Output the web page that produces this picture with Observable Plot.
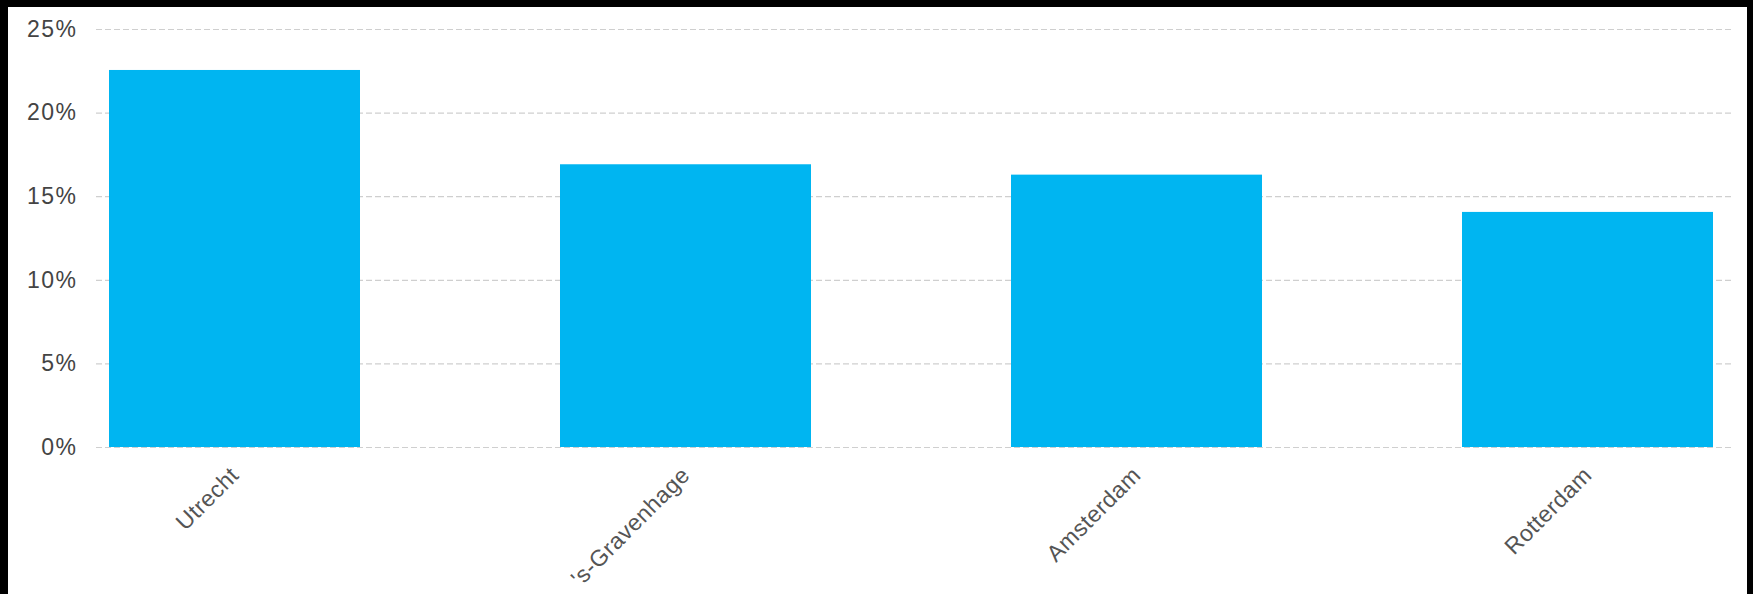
<!DOCTYPE html>
<html>
<head>
<meta charset="utf-8">
<script src="https://cdn.jsdelivr.net/npm/d3@7"></script>
<script src="https://cdn.jsdelivr.net/npm/@observablehq/plot@0.6"></script>
<style>
  html, body { margin: 0; padding: 0; background: #000; }
  #frame { position: absolute; left: 8px; top: 7px; width: 1739px; height: 587px; background: #fff; }
  #frame svg { display: block; }
  .yax text { letter-spacing: 1.5px; }
  .xax text { letter-spacing: 0.5px; }
</style>
</head>
<body>
<div id="frame"></div>
<script>
const cities = ["Utrecht", "'s-Gravenhage", "Amsterdam", "Rotterdam"];
const shares = [22.55, 16.91, 16.29, 14.06];
const yTicks = [0, 5, 10, 15, 20, 25];

const data = cities.map((c, i) => ({city: c, share: shares[i]}));

const chart = Plot.plot({
  width: 1739,
  height: 587,
  marginLeft: 88,
  marginRight: 16,
  marginTop: 22,
  marginBottom: 147,
  style: {fontFamily: "'Liberation Sans', Arial, sans-serif", fontSize: "22px", color: "#4a4a4a", background: "#fff"},
  x: {domain: cities, paddingInner: 0.444, paddingOuter: 0.032, align: 0.42, label: null},
  y: {domain: [0, 25], label: null},
  marks: [
    Plot.gridY(yTicks, {stroke: "#cfcfcf", strokeOpacity: 1, strokeWidth: 1.2, strokeDasharray: "6,3"}),
    Plot.barY(data, {x: "city", y: "share", fill: "#00b5f1"}),
    Plot.axisY(yTicks, {className: "yax", tickSize: 0, tickPadding: 19, tickFormat: d => d + "%", label: null, fontSize: 23, fill: "#444"}),
    Plot.axisX({className: "xax", tickSize: 0, tickPadding: 24, tickRotate: -45, label: null, fontSize: 23, fill: "#555"})
  ]
});
document.getElementById("frame").appendChild(chart);
</script>
</body>
</html>
